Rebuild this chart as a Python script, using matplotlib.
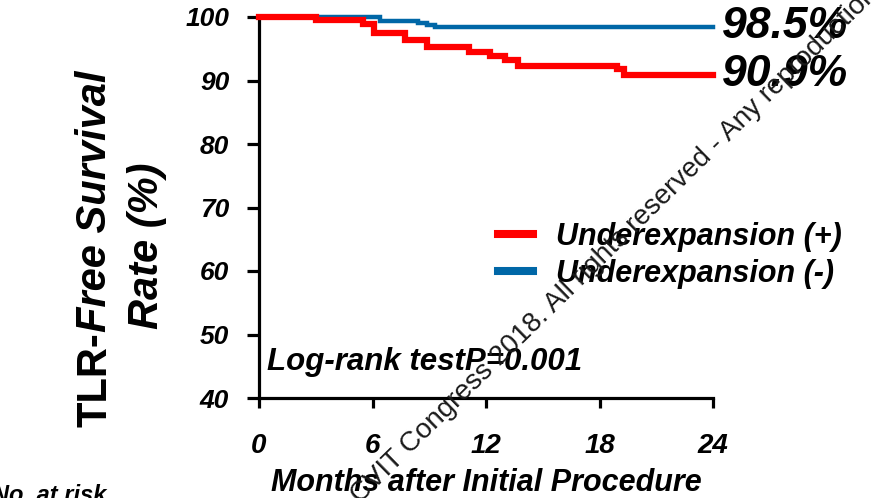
import matplotlib
matplotlib.use("Agg")
import matplotlib.pyplot as plt

# Kaplan-Meier step data (months, survival %)
red_months = [0, 3.0, 5.5, 6.1, 7.7, 8.9, 11.1, 12.2, 13.0, 13.7, 18.9, 19.3, 24]
red_surv = [100, 99.5, 98.9, 97.5, 96.4, 95.2, 94.5, 93.9, 93.2, 92.3, 91.8, 90.9, 90.9]
blue_months = [0, 6.4, 8.4, 8.9, 9.3, 24]
blue_surv = [100, 99.4, 99.1, 98.8, 98.5, 98.5]

series_labels = ["Underexpansion (+)", "Underexpansion (-)"]
end_labels = ["90.9%", "98.5%"]
x_ticks = [0, 6, 12, 18, 24]
y_ticks = [40, 50, 60, 70, 80, 90, 100]

RED = "#ff0000"
BLUE = "#0067a7"
FONT = "Liberation Sans"

W, H = 871, 498
fig = plt.figure(figsize=(W / 100, H / 100), dpi=100)
ax = fig.add_axes([259 / W, 1 - 398 / H, (713 - 259) / W, (398 - 17) / H])

lb, = ax.plot(blue_months, blue_surv, drawstyle="steps-post", color=BLUE,
              lw=3.2, clip_on=False, zorder=3, solid_joinstyle="miter")
lr, = ax.plot(red_months, red_surv, drawstyle="steps-post", color=RED,
              lw=4.5, clip_on=False, zorder=4, solid_joinstyle="miter")

ax.set_xlim(0, 24)
ax.set_ylim(40, 100)
ax.set_xticks(x_ticks)
ax.set_yticks(y_ticks)
for s in ("top", "right"):
    ax.spines[s].set_visible(False)
for s in ("left", "bottom"):
    ax.spines[s].set_linewidth(2.3)
ax.tick_params(axis="x", length=7.5, width=2.3, pad=18)
ax.tick_params(axis="y", length=8.5, width=2.3, pad=13)
for t in ax.get_xticklabels():
    t.set_fontfamily(FONT); t.set_fontweight("bold"); t.set_fontstyle("italic"); t.set_fontsize(20)
for t in ax.get_yticklabels():
    t.set_fontfamily(FONT); t.set_fontweight("bold"); t.set_fontstyle("italic"); t.set_fontsize(19)

ax.set_xlabel("Months after Initial Procedure", fontfamily=FONT, fontweight="bold",
              fontstyle="italic", fontsize=22, labelpad=6)

# End-of-follow-up values
for lab, val in ((end_labels[1], blue_surv[-1]), (end_labels[0], red_surv[-1])):
    ax.annotate(lab, xy=(24, val), xytext=(9, 0), textcoords="offset pixels",
                va="center", ha="left", fontfamily=FONT, fontweight="bold",
                fontstyle="italic", fontsize=32, annotation_clip=False)

ax.text(0.4, 45.7, "Log-rank testP=0.001", fontfamily=FONT, fontweight="bold",
        fontstyle="italic", fontsize=22.5, va="center", ha="left")

leg = ax.legend([lr, lb], series_labels, loc="upper left",
                bbox_to_anchor=(498 / W, 1 - 222 / H), bbox_transform=fig.transFigure,
                frameon=False, handlelength=1.15, handletextpad=0.75, labelspacing=0.22,
                borderpad=0, borderaxespad=0,
                prop=dict(family=FONT, weight="bold", style="italic", size=22))
for ln in leg.get_lines():
    ln.set_linewidth(5.8)

# Y axis title: two rotated lines, first one mixing upright and italic
fig.canvas.draw()
r = fig.canvas.get_renderer()
t1 = fig.text(95 / W, 1 - 427 / H, "TLR-", rotation=90, rotation_mode="anchor",
              ha="left", va="center", fontfamily=FONT, fontweight="bold", fontsize=30)
bb = t1.get_window_extent(renderer=r)
fig.text(95 / W, bb.y1 / H, "Free Survival", rotation=90, rotation_mode="anchor",
         ha="left", va="center", fontfamily=FONT, fontweight="bold", fontstyle="italic",
         fontsize=30)
fig.text(147 / W, 1 - 246 / H, "Rate (%)", rotation=90, rotation_mode="anchor",
         ha="center", va="center", fontfamily=FONT, fontweight="bold", fontstyle="italic",
         fontsize=30)

fig.text(-8 / W, 1 - 484 / H, "No. at risk", ha="left", va="top", fontfamily=FONT,
         fontweight="bold", fontstyle="italic", fontsize=17)

# Diagonal notice across the plot
fig.text(410 / W, 1 - 455 / H, "Congress 2018. All rights reserved - Any reproduction",
         rotation=44.4, rotation_mode="anchor", ha="left", va="baseline",
         fontfamily=FONT, fontsize=20, color="#1a1a1a", zorder=10)
fig.text(410 / W, 1 - 455 / H, "CVIT ", rotation=44.4, rotation_mode="anchor",
         ha="right", va="baseline", fontfamily=FONT, fontsize=20, color="#1a1a1a", zorder=10)

fig.savefig("out.png", dpi=100)
